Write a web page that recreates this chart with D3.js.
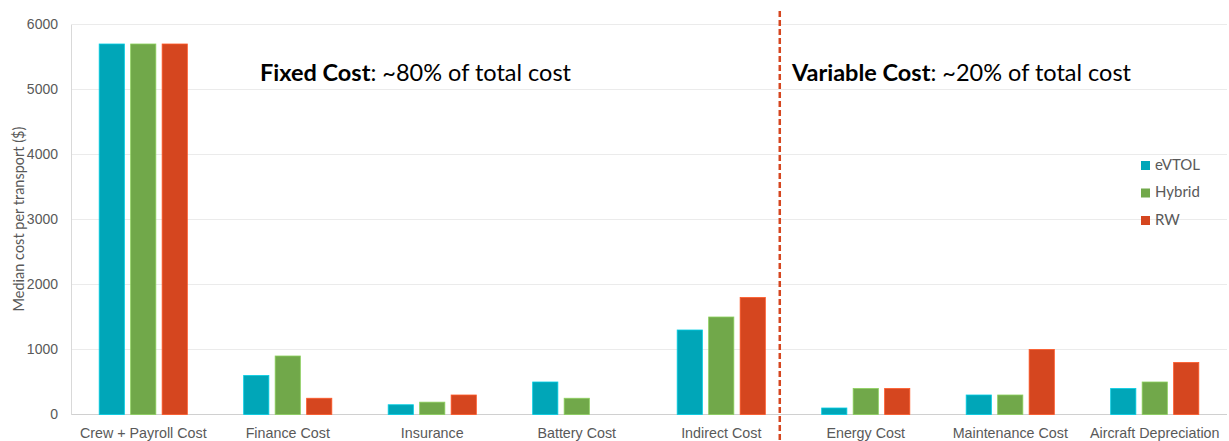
<!DOCTYPE html>
<html>
<head>
<meta charset="utf-8">
<script src="https://cdn.jsdelivr.net/npm/d3@7"></script>
<style>
  body { margin: 0; background: #fff; }
  svg { font-family: Lato, "Open Sans", sans-serif; }
</style>
</head>
<body>
<svg width="1229" height="441"></svg>
<script>
var categories = ["Crew + Payroll Cost", "Finance Cost", "Insurance", "Battery Cost",
    "Indirect Cost", "Energy Cost", "Maintenance Cost", "Aircraft Depreciation"];
var seriesNames = ["eVTOL", "Hybrid", "RW"];
var evtol  = [5700, 600, 150, 500, 1300, 100, 300, 400];
var hybrid = [5700, 900, 190, 250, 1500, 400, 300, 500];
var rw     = [5700, 250, 300, 0, 1800, 400, 1000, 800];
var yTicks = [0, 1000, 2000, 3000, 4000, 5000, 6000];
var colors = ["#00A6B8", "#71A84A", "#D5461F"];

(function drawChart(){
    var svg = d3.select("svg"),
        margin = {top: 24.5, right: 2, bottom: 26.5, left: 71},
        width = +svg.attr("width") - margin.left - margin.right,
        height = +svg.attr("height") - margin.top - margin.bottom;

    var x = d3.scaleBand().domain(categories).range([0, width]).paddingInner(0.39).paddingOuter(0.195);
    var x1 = d3.scaleBand().domain(seriesNames).range([0, x.bandwidth()]).paddingInner(0.2);
    var y = d3.scaleLinear().domain([0, 6000]).range([height, 0]);

    var g = svg.append("g")
        .attr("transform", "translate(" + margin.left + "," + margin.top + ")");

    // gridlines
    g.append("g")
        .selectAll("line")
        .data(yTicks)
        .enter()
        .append("line")
        .attr("x1", 0)
        .attr("x2", width)
        .attr("y1", function(d) { return y(d); })
        .attr("y2", function(d) { return y(d); })
        .attr("stroke", function(d) { return d === 0 ? "#d0d0d0" : "#ebebeb"; })
        .attr("stroke-width", 1.2);

    var yAxis = g.append("g")
        .call(d3.axisLeft(y).tickValues(yTicks).tickFormat(d3.format("d")).tickSize(0).tickPadding(13));
    yAxis.select(".domain").attr("stroke", "#d9d9d9");
    yAxis.selectAll("text").attr("fill", "#595959").style("font-size", "14px");

    var xAxis = g.append("g")
        .attr("transform", "translate(0," + height + ")")
        .call(d3.axisBottom(x).tickSize(0).tickPadding(13));
    xAxis.select(".domain").remove();
    xAxis.selectAll("text").attr("fill", "#595959").style("font-size", "14.3px");

    svg.append("text")
        .attr("transform", "translate(24,219) rotate(-90)")
        .attr("text-anchor", "middle")
        .attr("fill", "#595959")
        .style("font-size", "14.5px")
        .text("Median cost per transport ($)");

    var allSeries = [evtol, hybrid, rw];
    allSeries.forEach(function(values, s) {
        g.selectAll(".bar-" + s)
            .data(values)
            .enter()
            .append("rect")
            .attr("class", "bar-" + s)
            .attr("x", function(d, i) { return x(categories[i]) + x1(seriesNames[s]); })
            .attr("y", function(d) { return y(d); })
            .attr("width", x1.bandwidth())
            .attr("height", function(d) { return height - y(d); })
            .attr("fill", colors[s])
            .attr("stroke", d3.color(colors[s]).brighter(0.6))
            .attr("stroke-width", 0.8)
            .style("display", function(d) { return d > 0 ? null : "none"; });
    });

    // divider between fixed and variable (sits a little left of the band gap)
    var divX = margin.left + x(categories[4]) + x.bandwidth() + 0.1 * x.step();
    svg.append("line")
        .attr("x1", divX).attr("x2", divX)
        .attr("y1", 11).attr("y2", 441)
        .attr("stroke", "#D5461F")
        .attr("stroke-width", 2.5)
        .attr("stroke-dasharray", "6,3");

    var notes = [
        {x: 260, bold: "Fixed Cost", rest: ": ~80% of total cost"},
        {x: 792, bold: "Variable Cost", rest: ": ~20% of total cost"}
    ];
    notes.forEach(function(n) {
        var t = svg.append("text")
            .attr("x", n.x)
            .attr("y", 81)
            .attr("fill", "#000")
            .style("font-size", "23.5px");
        t.append("tspan").attr("font-weight", "bold").text(n.bold);
        t.append("tspan").text(n.rest);
    });

    var legend = svg.append("g").attr("transform", "translate(1141,161)");
    seriesNames.forEach(function(name, i) {
        legend.append("rect")
            .attr("x", 0).attr("y", i * 27.5)
            .attr("width", 9).attr("height", 9)
            .attr("fill", colors[i]);
        legend.append("text")
            .attr("x", 14).attr("y", i * 27.5 + 8.5)
            .attr("fill", "#595959")
            .style("font-size", "15px")
            .text(name);
    });
})();
</script>
</body>
</html>
